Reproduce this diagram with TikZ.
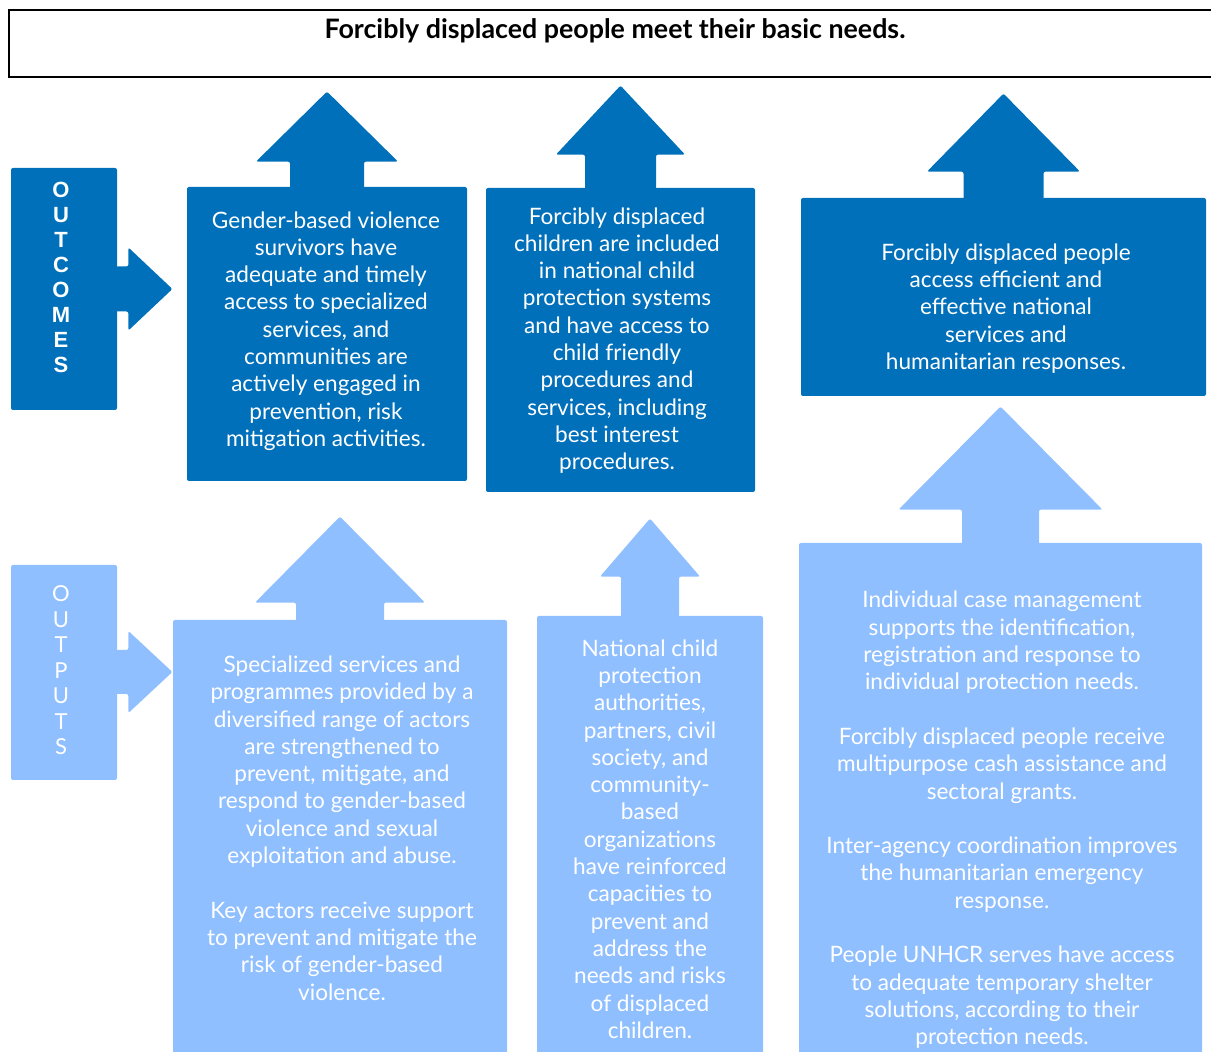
\documentclass[tikz,border=0pt]{standalone}
\usepackage{fontspec}
\setmainfont{Lato}
\newfontfamily\arialfont{Liberation Sans}
\usepackage{tikz}
\usetikzlibrary{calc}

\definecolor{darkblu}{RGB}{0,112,186}
\definecolor{lightblu}{RGB}{143,191,255}

\begin{document}
\begin{tikzpicture}[x=0.5pt,y=0.5pt,yscale=-1,xscale=1,
  darkbox/.style={fill=darkblu, rounded corners=1pt, inner sep=0pt},
  lightbox/.style={fill=lightblu, rounded corners=1pt, inner sep=0pt},
  boxtext/.style={text=white, align=center, inner sep=0pt, font=\fontsize{11.3}{13.65}\selectfont},
  stacktext/.style={text=white, align=center, inner sep=0pt}]
\useasboundingbox (0,0) rectangle (1211,1052);

%Shape: Rectangle (goal)
\node [draw=black, line width=1pt, minimum width=602pt, minimum height=33.5pt, inner sep=0pt] (goal) at (611,43.5) {};
% Text Node
\node [inner sep=0pt, font=\fontsize{13.4}{15}\selectfont\bfseries] (goaltext) at (615,31) {Forcibly displaced people meet their basic needs.};

%Shape: Rectangle (outcomes label)
\node [darkbox, minimum width=53pt, minimum height=121pt] (lbloc) at (64,289) {};
\fill [darkblu, rounded corners=1pt] ($(lbloc.east)+(-2,-22.5)$) -- ++(13,0) -- ++(0,-19) -- ++(44,41.5) -- ++(-44,41.5) -- ++(0,-19) -- ++(-13,0) -- cycle;
% Text Node
\node [stacktext, font=\arialfont\bfseries\fontsize{11}{12.5}\selectfont] (lbloctext) at (61,277) {O\\U\\T\\C\\O\\M\\E\\S};

%Shape: Rectangle (outputs label)
\node [lightbox, minimum width=53pt, minimum height=107.5pt] (lblop) at (64,672.5) {};
\fill [lightblu, rounded corners=1pt] ($(lblop.east)+(-2,-22.5)$) -- ++(13,0) -- ++(0,-19) -- ++(44,41) -- ++(-44,41) -- ++(0,-19) -- ++(-13,0) -- cycle;
% Text Node
\node [stacktext, font=\fontsize{11}{12.75}\selectfont] (lbloptext) at (61,670.5) {O\\U\\T\\P\\U\\T\\S};

%Shape: Rectangle (outcome 1)
\node [darkbox, minimum width=140pt, minimum height=147pt] (oc1) at (327,334) {};
\fill [darkblu, rounded corners=1pt] ($(oc1.north)+(-37,2)$) -- ++(0,-27) -- ++(-34,0) -- ++(71,-70) -- ++(71,70) -- ++(-34,0) -- ++(0,27) -- cycle;
% Text Node
\node [boxtext] (oc1text) at (326,331) {Gender-based violence\\survivors have\\adequate and timely\\access to specialized\\services, and\\communities are\\actively engaged in\\prevention, risk\\mitigation activities.};

%Shape: Rectangle (outcome 2)
\node [darkbox, minimum width=134.5pt, minimum height=152pt] (oc2) at (620.5,340) {};
\fill [darkblu, rounded corners=1pt] ($(oc2.north)+(-35.5,2)$) -- ++(0,-35) -- ++(-29,0) -- ++(64.5,-69) -- ++(64.5,69) -- ++(-29,0) -- ++(0,35) -- cycle;
% Text Node
\node [boxtext] (oc2text) at (617,340.5) {Forcibly displaced\\children are included\\in national child\\protection systems\\and have access to\\child friendly\\procedures and\\services, including\\best interest\\procedures.};

%Shape: Rectangle (outcome 3)
\node [darkbox, minimum width=202.5pt, minimum height=99pt] (oc3) at (1003.5,297) {};
\fill [darkblu, rounded corners=1pt] ($(oc3.north)+(-40,2)$) -- ++(0,-28) -- ++(-36.5,0) -- ++(76.5,-78) -- ++(76.5,78) -- ++(-36.5,0) -- ++(0,28) -- cycle;
% Text Node
\node [boxtext] (oc3text) at (1006,308.5) {Forcibly displaced people\\access efficient and\\effective national\\services and\\humanitarian responses.};

%Shape: Rectangle (output 1)
\node [lightbox, minimum width=167pt, minimum height=216.5pt] (op1) at (340,836.5) {};
\fill [lightblu, rounded corners=1pt] ($(op1.north)+(-44,2)$) -- ++(0,-19) -- ++(-41,0) -- ++(85,-86) -- ++(85,86) -- ++(-41,0) -- ++(0,19) -- cycle;
% Text Node
\node [boxtext] (op1text) at (342,828) {Specialized services and\\programmes provided by a\\diversified range of actors\\are strengthened to\\prevent, mitigate, and\\respond to gender-based\\violence and sexual\\exploitation and abuse.\\[13.65pt]Key actors receive support\\to prevent and mitigate the\\risk of gender-based\\violence.};

%Shape: Rectangle (output 2)
\node [lightbox, minimum width=113pt, minimum height=218.5pt] (op2) at (650,834.5) {};
\fill [lightblu, rounded corners=1pt] ($(op2.north)+(-29,2)$) -- ++(0,-41) -- ++(-21,0) -- ++(50,-58) -- ++(50,58) -- ++(-21,0) -- ++(0,41) -- cycle;
% Text Node
\node [boxtext] (op2text) at (650,839) {National child\\protection\\authorities,\\partners, civil\\society, and\\community-\\based\\organizations\\have reinforced\\capacities to\\prevent and\\address the\\needs and risks\\of displaced\\children.};

%Shape: Rectangle (output 3)
\node [lightbox, minimum width=201.5pt, minimum height=255pt] (op3) at (1000.5,798) {};
\fill [lightblu, rounded corners=1pt] ($(op3.north)+(-38.5,2)$) -- ++(0,-35) -- ++(-63.5,0) -- ++(102,-103) -- ++(102,103) -- ++(-63.5,0) -- ++(0,35) -- cycle;
% Text Node
\node [boxtext] (op3text) at (1002,820) {Individual case management\\supports the identification,\\registration and response to\\individual protection needs.\\[13.65pt]Forcibly displaced people receive\\multipurpose cash assistance and\\sectoral grants.\\[13.65pt]Inter-agency coordination improves\\the humanitarian emergency\\response.\\[13.65pt]People UNHCR serves have access\\to adequate temporary shelter\\solutions, according to their\\protection needs.};

\end{tikzpicture}
\end{document}
